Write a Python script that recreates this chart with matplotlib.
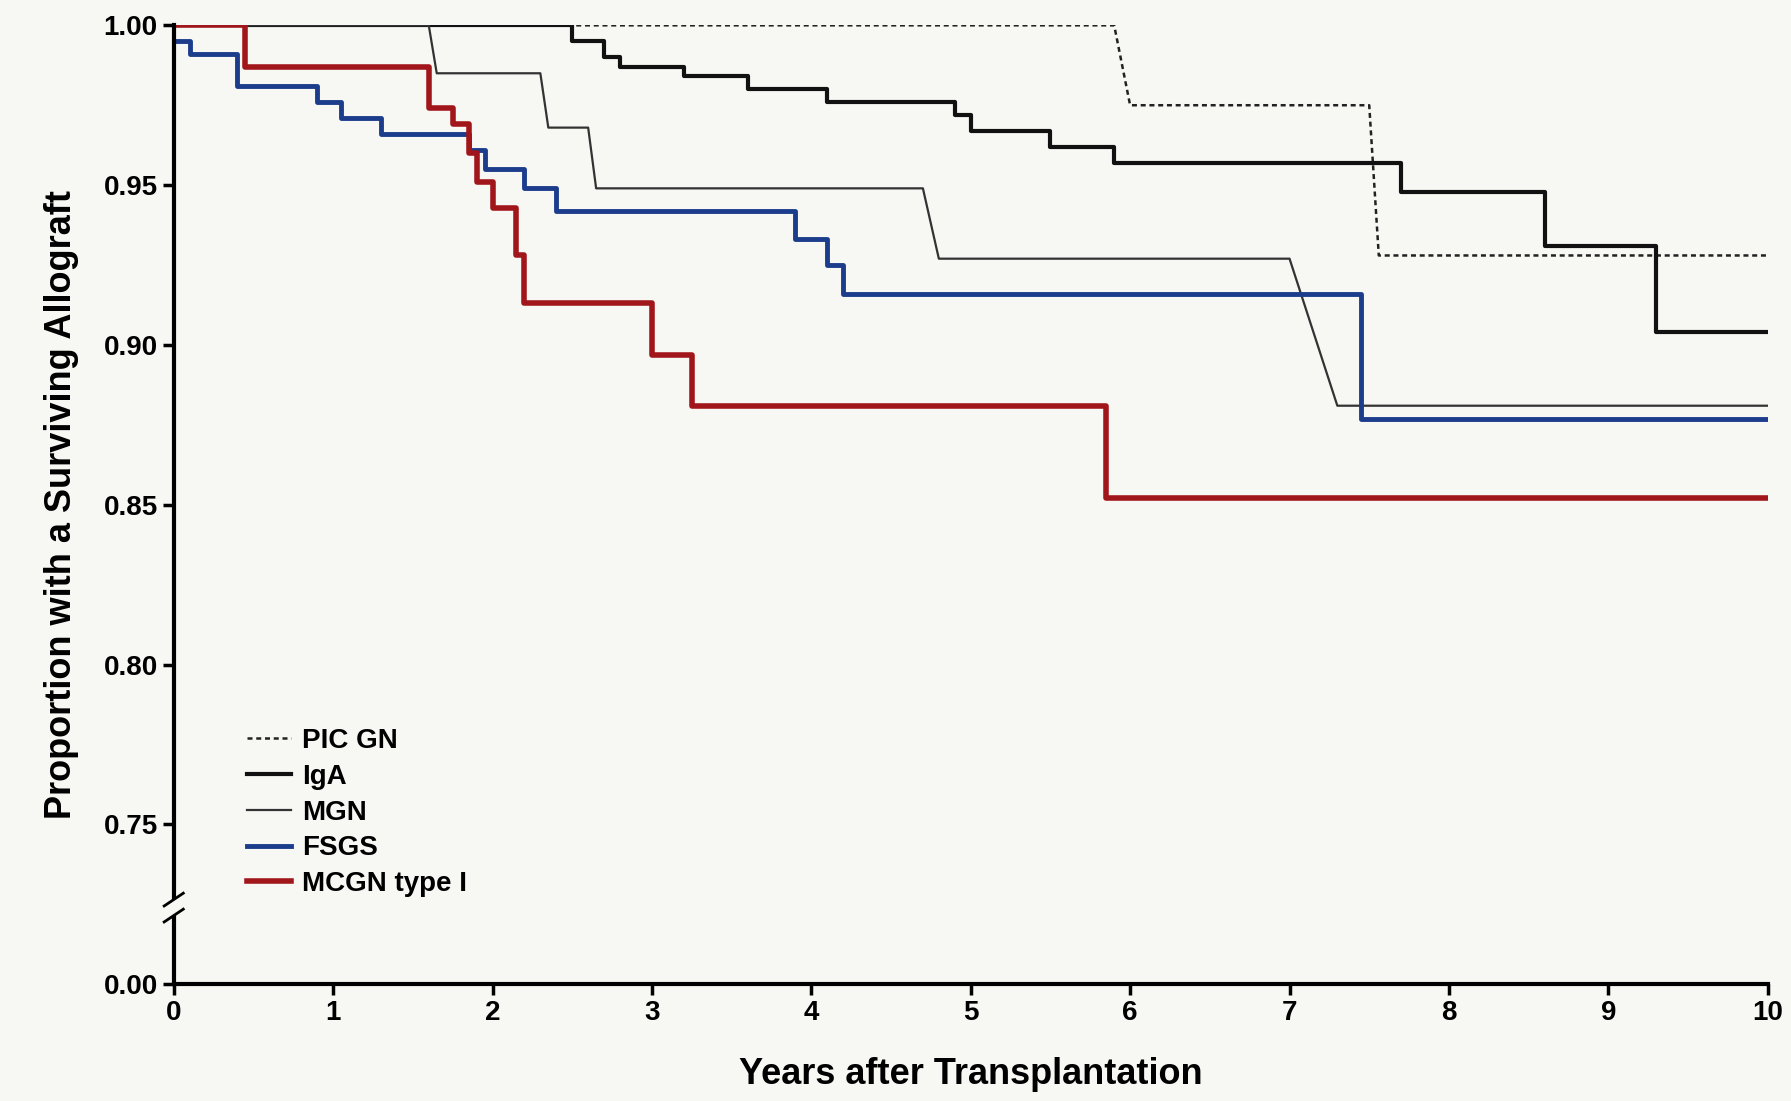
import matplotlib.pyplot as plt

# step curves: (years, survival) - drop points
pic_x = [0, 5.9, 6.0, 7.5, 7.56, 10]
pic_y = [1.0, 1.0, 0.975, 0.975, 0.928, 0.928]

iga_t = [0, 2.5, 2.7, 2.8, 3.2, 3.6, 4.1, 4.9, 5.0, 5.5, 5.9, 7.7, 8.6, 9.3, 10]
iga_s = [1.0, 0.995, 0.99, 0.987, 0.984, 0.98, 0.976, 0.972, 0.967, 0.962, 0.957, 0.948, 0.931, 0.904, 0.904]

mgn_x = [0, 1.6, 1.65, 2.3, 2.35, 2.6, 2.65, 4.7, 4.8, 7.0, 7.3, 10]
mgn_y = [1.0, 1.0, 0.985, 0.985, 0.968, 0.968, 0.949, 0.949, 0.927, 0.927, 0.881, 0.881]

fsgs_t = [0, 0.1, 0.4, 0.9, 1.05, 1.3, 1.85, 1.95, 2.2, 2.4, 3.9, 4.1, 4.2, 7.45, 10]
fsgs_s = [0.995, 0.991, 0.981, 0.976, 0.971, 0.966, 0.961, 0.955, 0.949, 0.942, 0.933, 0.925, 0.916, 0.877, 0.877]

mcgn_t = [0, 0.45, 1.6, 1.75, 1.85, 1.9, 2.0, 2.15, 2.2, 3.0, 3.25, 5.85, 10]
mcgn_s = [1.0, 0.987, 0.974, 0.969, 0.96, 0.951, 0.943, 0.928, 0.913, 0.897, 0.881, 0.852, 0.852]

plt.rcParams['font.family'] = 'Liberation Sans'
plt.rcParams['font.weight'] = 'bold'

fig = plt.figure(figsize=(17.91, 11.01), dpi=100, facecolor='#f7f7f4')
ax = fig.add_axes([0.097, 0.106, 0.89, 0.871])
ax.set_facecolor('#f7f7f4')

ax.plot(pic_x, pic_y, color='#222', lw=1.8, ls=(0, (2, 1.5)), label='PIC GN')
ax.step(iga_t, iga_s, where='post', color='#111', lw=3, label='IgA')
ax.plot(mgn_x, mgn_y, color='#333', lw=1.6, label='MGN')
ax.step(fsgs_t, fsgs_s, where='post', color='#1c3c8c', lw=3.5, label='FSGS')
ax.step(mcgn_t, mcgn_s, where='post', color='#a0161a', lw=4, label='MCGN type I')

ax.set_xlim(0, 10)
ax.set_ylim(0.70, 1.0)
ax.set_xticks(range(11))
ax.set_yticks([0.70, 0.75, 0.80, 0.85, 0.90, 0.95, 1.00])
ax.set_yticklabels(['0.00', '0.75', '0.80', '0.85', '0.90', '0.95', '1.00'])
for s in ['top', 'right']:
    ax.spines[s].set_visible(False)
for s in ['left', 'bottom']:
    ax.spines[s].set_linewidth(3)
ax.tick_params(direction='out', width=2.5, length=8, labelsize=20)
for lab in ax.get_xticklabels() + ax.get_yticklabels():
    lab.set_fontweight('bold')

# axis break
ax.plot([-0.05, 0.05], [0.7215, 0.7265], color='#f7f7f4', lw=8, clip_on=False, zorder=5)
for dy in (0.7215, 0.7265):
    ax.plot([-0.06, 0.06], [dy - 0.002, dy + 0.002], color='k', lw=2, clip_on=False, zorder=6)

ax.set_xlabel('Years after Transplantation', fontsize=26, fontweight='bold', labelpad=22)
ax.set_ylabel('Proportion with a Surviving Allograft', fontsize=26, fontweight='bold', labelpad=18)

leg = ax.legend(loc='lower left', bbox_to_anchor=(0.03, 0.065), frameon=False, fontsize=20,
                handlelength=1.6, labelspacing=0.35, handletextpad=0.4)
for t in leg.get_texts():
    t.set_fontweight('bold')

fig.savefig('out.png', dpi=100, facecolor=fig.get_facecolor())
